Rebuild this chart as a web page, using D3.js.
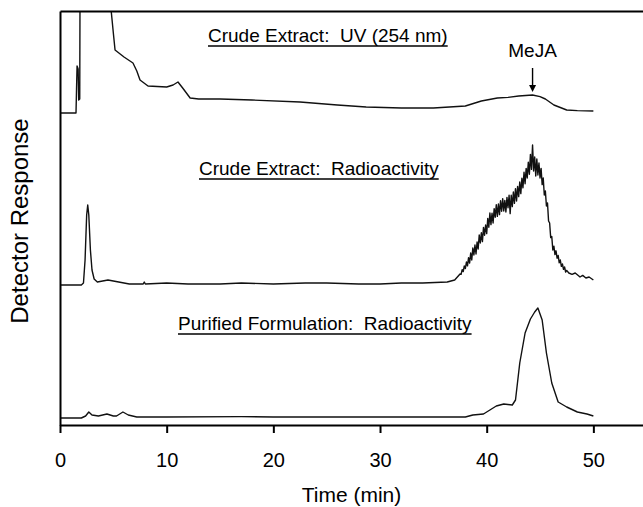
<!DOCTYPE html>
<html>
<head>
<meta charset="utf-8">
<script src="https://cdn.jsdelivr.net/npm/d3@7"></script>
<style>
  body { margin: 0; background: #fff; }
  svg { display: block; font-family: "Liberation Sans", Arial, sans-serif; }
</style>
</head>
<body>
<svg width="643" height="507"></svg>
<script>
// x-axis ticks (minutes)
const timeTicks = [0, 10, 20, 30, 40, 50];

// Crude extract, UV 254 nm  [time, response]
const uvTrace = [
  [0, 156], [1.5, 156], [1.55, 168], [1.6, 179.5], [1.7, 178], [1.75, 162.5], [1.85, 163],
  [1.9, 262], [4.5, 262], [4.7, 212.5], [5.0, 196], [5.16, 187.5], [6.0, 184], [6.84, 181],
  [7.2, 177], [7.5, 172.5], [8.25, 169.5], [10.0, 169], [10.6, 170], [11.06, 171.5],
  [11.5, 168.5], [12.2, 163.5], [13, 163], [15, 163], [18, 162.5], [22.5, 161.5], [26, 160],
  [28.7, 159], [32, 158.5], [35, 158.5], [38, 159.5], [39.5, 162], [41, 163.5], [42, 163.8],
  [43, 164.5], [44.3, 165], [45.0, 164.2], [45.5, 163], [46.3, 160], [47.5, 157.5], [48.5, 157.2], [50, 157]
];

// Crude extract, radioactivity  [time, response]
const crudeRadioTrace = [
  [0, 70], [2.0, 70], [2.2, 71], [2.35, 82.5], [2.5, 105], [2.6, 110], [2.7, 105], [2.85, 87.5],
  [3.0, 77.5], [3.2, 73], [3.5, 71.5], [4.0, 72], [4.5, 72.5], [5.0, 72], [5.5, 71.5], [6.5, 70.5],
  [7.8, 70.5], [7.9, 71.5], [8.0, 70.5], [10, 71], [12, 70.5], [15, 70.5], [17, 71], [20, 70.5],
  [23, 71], [25, 71], [28, 70.5], [30, 70.5], [32, 71], [34, 71], [36.3, 71.5], [37, 72.5],
  [37.5, 75.5], [37.6, 75.3], [37.7, 77.7], [37.8, 76.7], [37.9, 79.5], [38.0, 78.2], [38.1, 81.5],
  [38.2, 79.6], [38.3, 83.7], [38.4, 81.0], [38.5, 86.0], [38.6, 82.5], [38.7, 88.5], [38.8, 85.0],
  [38.9, 90.0], [39.0, 85.5], [39.1, 91.5], [39.2, 88.0], [39.3, 95.0], [39.4, 91.0], [39.5, 96.1],
  [39.6, 91.7], [39.7, 98.8], [39.8, 94.9], [39.9, 100.0], [40.0, 95.7], [40.1, 103.3], [40.2, 98.9],
  [40.3, 106.0], [40.4, 100.2], [40.5, 105.9], [40.6, 101.0], [40.7, 108.2], [40.8, 103.9],
  [40.9, 110.1], [41.0, 104.3], [41.1, 110.5], [41.2, 105.2], [41.3, 112.1], [41.4, 106.9],
  [41.5, 113.2], [41.6, 107.0], [41.7, 112.3], [41.8, 106.5], [41.9, 113.8], [42.0, 108.6],
  [42.1, 114.9], [42.2, 105.7], [42.3, 114.9], [42.4, 109.2], [42.5, 116.5], [42.6, 110.8],
  [42.7, 118.2], [42.8, 112.0], [42.9, 119.3], [43.0, 114.2], [43.1, 121.5], [43.2, 115.7],
  [43.3, 123.4], [43.4, 118.6], [43.5, 126.4], [43.6, 120.6], [43.7, 128.3], [43.8, 123.5],
  [43.9, 131.4], [44.0, 125.4], [44.1, 135.3], [44.2, 127.8], [44.3, 140.0], [44.4, 127.0],
  [44.5, 134.0], [44.6, 124.5], [44.7, 133.0], [44.8, 125.0], [44.9, 131.0], [45.0, 123.5],
  [45.1, 128.3], [45.2, 120.2], [45.3, 123.5], [45.4, 115.0], [45.5, 117.0], [45.6, 109.5],
  [45.7, 111.0], [45.8, 102.0], [45.9, 101.0], [46.0, 93.7], [46.1, 94.3], [46.2, 87.5],
  [46.3, 89.4], [46.4, 85.2], [46.5, 87.1], [46.6, 83.4], [46.7, 84.8], [46.8, 81.1], [46.9, 82.5],
  [47.0, 79.3], [47.1, 80.5], [47.2, 77.8], [47.3, 79.0], [47.4, 76.5], [47.5, 77.3], [47.7, 76.0],
  [48.0, 75.3], [48.3, 76.0], [48.75, 74], [49.0, 74.8], [49.3, 73.5], [49.6, 74.0], [50, 72.5]
];

// Purified formulation, radioactivity  [time, response]
const purifiedTrace = [
  [0, 3.5], [2.0, 3.5], [2.4, 4.5], [2.7, 6.5], [3.0, 5], [3.6, 4.5], [4.4, 5.5], [5.0, 4.5],
  [5.3, 4.5], [5.9, 6.5], [6.4, 5], [7.2, 4], [10, 4], [17, 4.2], [20, 4], [30, 4], [38.0, 4],
  [38.7, 5], [39.7, 5.5], [40.3, 7.5], [40.9, 9.5], [41.6, 10.5], [42.4, 10], [42.7, 12.5],
  [43.1, 31], [43.6, 46], [44.1, 53], [44.5, 56.5], [44.8, 58.5], [45.2, 52.5], [45.6, 36],
  [46.1, 21], [46.7, 11.5], [47.5, 9], [48.5, 6.5], [49.4, 5.5], [50, 4.5]
];

const traceLabels = ["Crude Extract:  UV (254 nm)", "Crude Extract:  Radioactivity", "Purified Formulation:  Radioactivity"];
const peakName = "MeJA";
const peakTime = 44.3;
const peakValue = 165;

const plotLeft = 60, plotRight = 646.7, plotTop = 11, plotBottom = 425;

const svg = d3.select("svg");

const xScale = d3.scaleLinear().domain([0, 55]).range([plotLeft, plotRight]);
const yScale = d3.scaleLinear().domain([0, 207]).range([plotBottom, plotTop]);

svg.append("clipPath").attr("id", "plot")
  .append("rect").attr("x", plotLeft).attr("y", plotTop)
  .attr("width", plotRight - plotLeft).attr("height", plotBottom - plotTop);

const line = d3.line().x(d => xScale(d[0])).y(d => yScale(d[1]));

svg.append("g").attr("clip-path", "url(#plot)")
  .selectAll("path")
  .data([uvTrace, crudeRadioTrace, purifiedTrace])
  .enter()
  .append("path")
  .attr("d", line)
  .attr("fill", "none")
  .attr("stroke", "#111")
  .attr("stroke-width", 1.4)
  .attr("stroke-linejoin", "round");

// axes
const xAxis = svg.append("g")
  .attr("transform", "translate(0," + plotBottom + ")")
  .call(d3.axisBottom(xScale).tickValues(timeTicks).tickSize(8).tickSizeOuter(0).tickPadding(20));
xAxis.selectAll("text").attr("font-size", 20).attr("fill", "#000").attr("font-family", "Liberation Sans, Arial, sans-serif");

svg.append("g")
  .attr("transform", "translate(0," + plotTop + ")")
  .call(d3.axisTop(xScale).tickValues([]).tickSizeOuter(0));

svg.append("g")
  .attr("transform", "translate(" + plotLeft + ",0)")
  .call(d3.axisLeft(yScale).tickValues([]).tickSizeOuter(0));

svg.selectAll(".domain").attr("stroke", "#000").attr("stroke-width", 2);
svg.selectAll(".tick line").attr("stroke", "#000").attr("stroke-width", 2);

// axis titles
svg.append("text")
  .attr("x", (plotLeft + 643) / 2).attr("y", 502)
  .attr("text-anchor", "middle").attr("font-size", 21)
  .text("Time (min)");

svg.append("text")
  .attr("transform", "translate(28,221) rotate(-90)")
  .attr("text-anchor", "middle").attr("font-size", 24)
  .text("Detector Response");

// trace labels, underlined
const labelPos = [[208, 42], [199, 175], [178, 330]];
traceLabels.forEach((t, i) => {
  const txt = svg.append("text")
    .attr("x", labelPos[i][0]).attr("y", labelPos[i][1])
    .attr("font-size", 19)
    .style("white-space", "pre")
    .text(t);
  const w = txt.node().getComputedTextLength();
  svg.append("line")
    .attr("x1", labelPos[i][0]).attr("x2", labelPos[i][0] + w)
    .attr("y1", labelPos[i][1] + 4).attr("y2", labelPos[i][1] + 4)
    .attr("stroke", "#000").attr("stroke-width", 1.6);
});

// MeJA arrow
const ax = xScale(peakTime);
const tipY = yScale(peakValue) - 3;
svg.append("line")
  .attr("x1", ax).attr("x2", ax).attr("y1", tipY - 24).attr("y2", tipY - 5)
  .attr("stroke", "#000").attr("stroke-width", 1.4);
svg.append("path")
  .attr("d", `M${ax - 3.5},${tipY - 7} L${ax + 3.5},${tipY - 7} L${ax},${tipY} Z`)
  .attr("fill", "#000");
svg.append("text")
  .attr("x", ax).attr("y", tipY - 35)
  .attr("text-anchor", "middle").attr("font-size", 19)
  .text(peakName);
</script>
</body>
</html>
